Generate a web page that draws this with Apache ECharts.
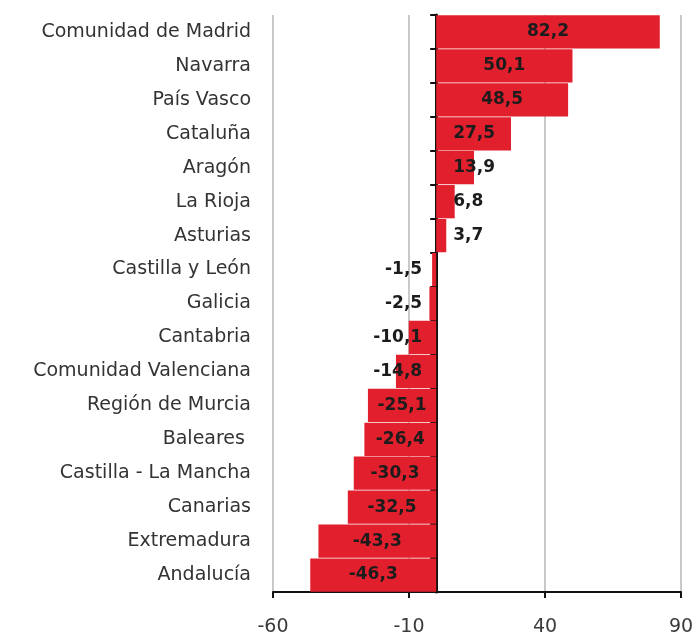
<!DOCTYPE html>
<html>
<head>
<meta charset="utf-8">
<script src="https://cdn.jsdelivr.net/npm/echarts@6/dist/echarts.min.js"></script>
<style>
  html, body { margin: 0; padding: 0; background: #fff; }
  #chart { width: 699px; height: 643px; }
</style>
</head>
<body>
<div id="chart"></div>
<script>
// Regions, top to bottom
const regions = [
  'Comunidad de Madrid', 'Navarra', 'País Vasco', 'Cataluña', 'Aragón',
  'La Rioja', 'Asturias', 'Castilla y León', 'Galicia', 'Cantabria',
  'Comunidad Valenciana', 'Región de Murcia', 'Baleares ', 'Castilla - La Mancha',
  'Canarias', 'Extremadura', 'Andalucía'
];
// Value per region
const values = [
  82.2, 50.1, 48.5, 27.5, 13.9, 6.8, 3.7, -1.5, -2.5, -10.1,
  -14.8, -25.1, -26.4, -30.3, -32.5, -43.3, -46.3
];
// Horizontal axis range and step
const axisMin = -60;
const axisMax = 90;
const axisStep = 50;

const FONT = 'DejaVu Sans';

const fmt = v => String(v.toFixed(1)).replace('.', ',');

// Short bars keep their label just beside the zero line, longer ones centre it
const barData = values.map(v => {
  let label;
  if (v >= 28) label = { position: 'inside' };
  else if (v >= 0) label = { position: 'insideLeft', distance: 17 };
  else if (v <= -24) label = { position: 'inside' };
  else label = { position: 'insideRight', distance: 14 };
  return { value: v, label };
});

const chart = echarts.init(document.getElementById('chart'), null, { renderer: 'canvas' });
chart.setOption({
  animation: false,
  backgroundColor: '#ffffff',
  grid: { left: 273, right: 18, top: 15, bottom: 51, containLabel: false },
  xAxis: {
    type: 'value',
    min: axisMin,
    max: axisMax,
    interval: axisStep,
    axisLine: { show: true, onZero: false, lineStyle: { color: '#111', width: 2 } },
    axisTick: { show: true, inside: false, length: 6, lineStyle: { color: '#111', width: 2 } },
    axisLabel: { fontFamily: FONT, fontSize: 19, color: '#3a3a3a', margin: 26 },
    splitLine: { show: true, lineStyle: { color: '#c9c9c9', width: 2 } }
  },
  yAxis: [
    {
      type: 'category',
      data: regions,
      inverse: true,
      position: 'left',
      axisLine: { show: false, onZero: false },
      axisTick: { show: false },
      axisLabel: { fontFamily: FONT, fontSize: 19, color: '#333', margin: 22 }
    },
    {
      // zero line with tick marks between regions
      type: 'category',
      data: regions,
      inverse: true,
      position: 'left',
      axisLine: { show: true, onZero: true, lineStyle: { color: '#111', width: 3 } },
      axisTick: { show: true, length: 6, lineStyle: { color: '#111', width: 2 } },
      axisLabel: { show: false },
      splitLine: { show: false }
    }
  ],
  series: [{
    type: 'bar',
    yAxisIndex: 0,
    data: barData,
    barCategoryGap: '2%',
    itemStyle: { color: '#e21f2c' },
    label: {
      show: true,
      fontFamily: FONT,
      fontSize: 17,
      fontWeight: 'bold',
      color: '#1c1c1c',
      formatter: p => fmt(p.value)
    }
  }]
});
</script>
</body>
</html>
